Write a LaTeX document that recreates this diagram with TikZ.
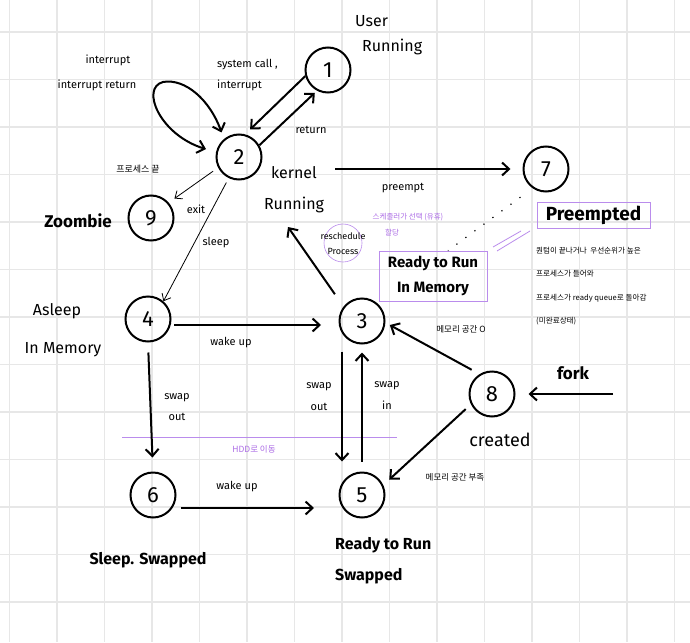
\documentclass[tikz,border=0pt]{standalone}
\usepackage{fontspec}
\setmainfont{Fira Sans}
\newfontfamily\kr{Noto Sans CJK KR}
\usetikzlibrary{arrows.meta}
\definecolor{gridgray}{RGB}{231,231,231}
\definecolor{lav}{RGB}{186,140,236}
\definecolor{pur}{RGB}{172,108,230}

\begin{document}
\begin{tikzpicture}[x=1pt, y=-1pt, every node/.style={align=center, inner sep=1pt},
  st/.style={circle, draw, line width=2pt, minimum size=45pt, inner sep=0pt, font=\fontsize{22}{22}\selectfont},
  big/.style={font=\fontsize{16}{19}\selectfont},
  heavy/.style={font=\bfseries\fontsize{17}{20}\selectfont},
  lab/.style={font=\fontsize{11}{13}\selectfont},
  kor/.style={font=\kr\fontsize{8.5}{10}\selectfont},
  note/.style={font=\kr\fontsize{7.5}{9}\selectfont, text=pur},
  arr/.style={-{Straight Barb[length=7pt,width=13pt]}, line width=2pt},
  arrs/.style={{Straight Barb[length=7pt,width=13pt]}-{Straight Barb[length=7pt,width=13pt]}, line width=2pt},
  tarr/.style={-{Straight Barb[length=6pt,width=10pt]}, line width=0.8pt},
  gridline/.style={gridgray, line width=1.6pt}]
\useasboundingbox (0,0) rectangle (690,642);
\fill[white] (0,0) rectangle (690,642);
\foreach \gx in {0,...,14} \draw[gridline] ({9.5+47.5*\gx},0) -- ++(0,642);
\foreach \gy in {0,...,12} \draw[gridline] (0,{32+47.5*\gy}) -- ++(690,0);
% states
\node[st] (n1) at (328,70) {1};
\node[st] (n2) at (239,157) {2};
\node[st] (n7) at (546,169) {7};
\node[st] (n9) at (151,218) {9};
\node[st] (n4) at (148,319) {4};
\node[st] (n3) at (362,321) {3};
\node[st] (n8) at (492,394) {8};
\node[st] (n6) at (153,495) {6};
\node[st] (n5) at (362,495) {5};
% state names
\node[big, anchor=west] (u1) at (354,21) {User};
\node[big, anchor=west] (u2) at (361,47) {Running};
\node[font=\fontsize{16}{31}\selectfont] (lk) at (294,190) {kernel\\Running};
\node[heavy] (l9) at (78,221) {Zoombie};
\node[big] (l4a) at (57,311) {Asleep};
\node[big] (l4b) at (63,350) {In Memory};
\node[font=\bfseries\fontsize{16}{19}\selectfont] (l6) at (148,560) {Sleep. Swapped};
\node[anchor=west, align=left, font=\bfseries\fontsize{16}{31}\selectfont] (l5) at (334,561) {Ready to Run\\Swapped};
\node[heavy] (lf) at (573,373) {fork};
\node[font=\fontsize{18}{20}\selectfont] (l8) at (500,440) {created};
\node[draw=lav, line width=0.7pt, minimum width=113pt, minimum height=26pt, font=\bfseries\fontsize{19}{20}\selectfont] (l7) at (593.5,215) {Preempted};
\node[draw=lav, line width=0.7pt, minimum width=108pt, minimum height=50pt, font=\bfseries\fontsize{15}{25}\selectfont] (rim) at (433,276) {Ready to Run\\In Memory};
\node[anchor=west, align=left, font=\kr\fontsize{7.6}{23.5}\selectfont] (pnote) at (535,286) {퀀텀이 끝나거나 \ 우선순위가 높은\\프로세스가 들어와\\프로세스가 ready queue로 돌아감\\(미완료상태)};
% edge labels
\node[lab] (t1) at (108,60) {interrupt};
\node[lab] (t2) at (97,85) {interrupt return};
\node[anchor=west, align=left, font=\fontsize{11}{21}\selectfont] (t3) at (216,75) {system call ,\\interrupt};
\node[lab] (t4) at (311,130) {return};
\node[kor, font=\kr\fontsize{9}{10}\selectfont] (t5) at (138,169) {프로세스 끝};
\node[lab] (t6) at (196,209) {exit};
\node[lab] (t7) at (216,243) {sleep};
\node[lab] (t8) at (403,188) {preempt};
\node[lab] (t9) at (231,343) {wake up};
\node[font=\fontsize{11}{21}\selectfont] (t10) at (177,407) {swap\\out};
\node[font=\fontsize{11}{22}\selectfont] (t11) at (319,397) {swap\\out};
\node[font=\fontsize{11}{22}\selectfont] (t12) at (387,396) {swap\\in};
\node[lab] (t13) at (237,487) {wake up};
\node[kor] (t14) at (461,329) {메모리 공간 O};
\node[kor] (t15) at (455,477) {메모리 공간 부족};
% purple notes
\node[note] (p1) at (408,217) {스케줄러가 선택 (유휴)};
\node[note] (p2) at (392,233) {할당};
\node[note, font=\kr\fontsize{8.5}{10}\selectfont] (p3) at (254,449) {HDD로 이동};
\node[draw=lav, circle, line width=0.6pt, minimum size=38pt] (rsc) at (343,243) {};
\node[font=\fontsize{9}{15}\selectfont] (rst) at (343,244) {reschedule\\Process};
\draw[lav, line width=0.8pt] (122,437) -- (397,437);
\draw[lav, line width=0.8pt] (493,247) -- (521,231) (497,251) -- (530,231);
% transitions
\coordinate (pre) at (335,169);
\coordinate (kin) at (288,227);
\coordinate (fk) at (613,394);
\draw[arr, shorten >=7pt] (n1.195) -- (n2.75);
\draw[arr, shorten >=3pt] (n2.30) -- (n1.242);
\draw[arrs] ([shift={(-3,-6)}]n2.128) .. controls (210,100) and (185,78) .. (163,82) .. controls (140,88) and (160,135) .. ([shift={(-10,-3)}]n2.168);
\draw[tarr, shorten <=6pt, shorten >=7pt] (n2.207) -- (n9.41);
\draw[tarr, shorten <=5pt] (n2.244) -- (n4.49);
\draw[arr, shorten >=12pt] (pre) -- (n7.west);
\draw[arr, shorten <=15pt] (n3.142) -- (kin);
\draw[arr, shorten <=2.5pt, shorten >=17.5pt] ([yshift=-6pt]n4.east) -- ([yshift=-4pt]n3.west);
\draw[arr, shorten <=10pt, shorten >=14pt] (n4.south) -- (n6.north);
\draw[arr, shorten <=7pt, shorten >=10pt] ([xshift=-20pt]n3.south) -- ([xshift=-20pt]n5.north);
\draw[arr, shorten <=10pt, shorten >=8pt] (n5.north) -- (n3.south);
\draw[arr, shorten <=4.5pt, shorten >=24.5pt] ([yshift=-13pt]n6.east) -- ([yshift=-13pt]n5.west);
\draw[arr, shorten <=9pt, shorten >=5pt] (n8.122) -- (n3.356);
\draw[arr, shorten <=7pt, shorten >=8pt] (n8.206) -- (n5.25);
\draw[arr, shorten >=13pt] (fk) -- (n8.east);
\draw[line width=1.2pt, dash pattern=on 1.2pt off 10pt, shorten <=15pt] (n7.235) -- ([xshift=15pt]rim.north);
\end{tikzpicture}
\end{document}
